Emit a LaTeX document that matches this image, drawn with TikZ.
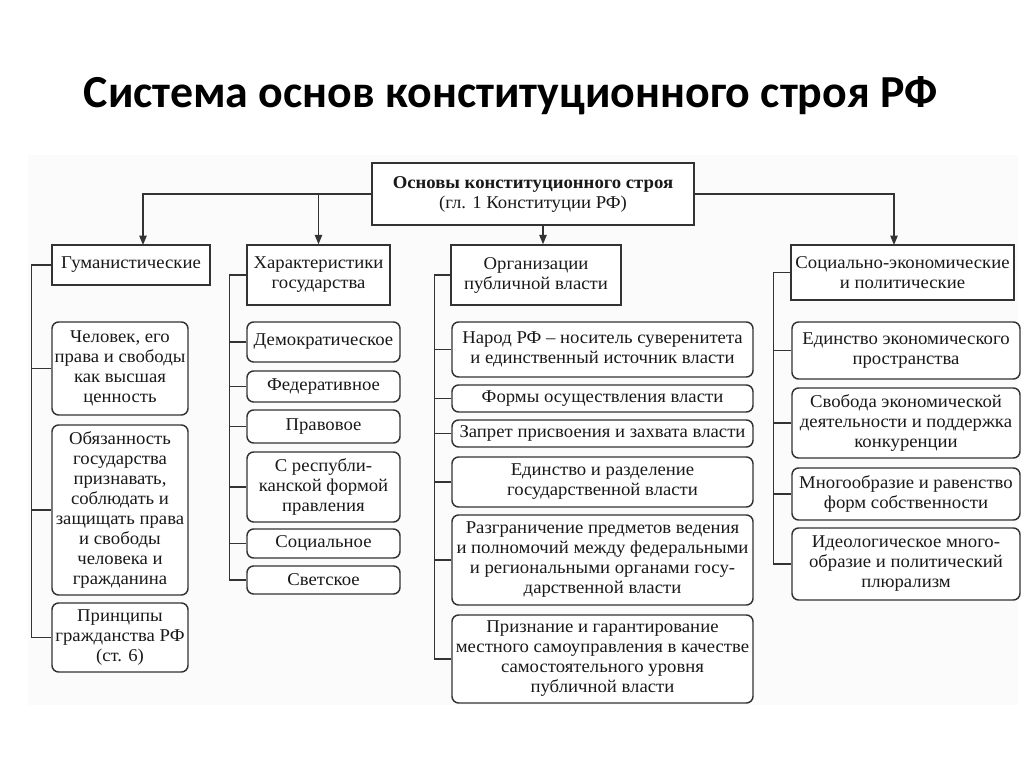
\documentclass[tikz,border=0pt]{standalone}
\usepackage{fontspec}
\setmainfont{Liberation Serif}[FakeStretch=1.04]
\newfontfamily\titlefont{Carlito}
\usetikzlibrary{arrows.meta}
\tikzset{
  base/.style={draw=black!80, line width=1.1pt, align=center, inner sep=0pt,
    font=\fontsize{13.5}{15}\selectfont, fill=white, text=black!90},
  rbox/.style={base, rounded corners=5pt},
  sbox/.style={base},
  ln/.style={draw=black!80, line width=1pt},
  arr/.style={ln, -{Triangle[length=7pt,width=5.5pt]}},
}
\newcommand\bx[7]{\node[#1, minimum width={(#4-#2)*0.75pt}, minimum height={(#5-#3)*0.75pt}] (#6) at ({(#2+#4)/2},{(#3+#5)/2}) {#7};}
\begin{document}
\begin{tikzpicture}[x=0.75pt,y=-0.75pt]
\fill[white] (0,0) rectangle (1024,767);
\fill[black!1.5] (28,155) rectangle (1018,705);
\useasboundingbox (0,0) rectangle (1024,767);
\node[font=\titlefont\bfseries\fontsize{34.4}{40}\selectfont, anchor=base] (title) at (511,108) {Система основ конституционного строя РФ};

\bx{sbox}{372}{163}{694}{225}{top}{\textbf{Основы конституционного строя}\\(гл. 1 Конституции РФ)}
\bx{sbox}{52}{245}{210}{285}{h1}{Гуманистические}
\bx{sbox}{247}{245}{390}{305}{h2}{Характеристики\\государства}
\bx{sbox}{451}{245}{621}{305}{h3}{Организации\\публичной власти}
\bx{sbox}{791}{245}{1014}{300}{h4}{Социально-экономические\\и политические}

\coordinate (p1) at (143,245);
\coordinate (p4) at (894,245);
\coordinate (pm) at (543,0);
\draw[arr] (top.west) -| (p1);
\draw[arr] (top.west -| h2.north) -- (h2.north);
\draw[arr] (top.east) -| (p4);
\draw[arr] (top.south -| pm) -- (h3.north -| pm);

% column 1
\bx{rbox}{52}{322}{188}{415}{a1}{Человек, его\\права и свободы\\как высшая\\ценность}
\bx{rbox}{52}{425}{188}{595}{a2}{Обязанность\\государства\\признавать,\\соблюдать и\\защищать права\\и свободы\\человека и\\гражданина}
\bx{rbox}{52}{603}{188}{672}{a3}{Принципы\\гражданства РФ\\(ст. 6)}
\draw[ln] (h1.west) -- ++(-20,0) |- (a3.west);
\foreach \n in {a1,a2} \draw[ln] (\n.west) -- ++(-20,0);

% column 2
\bx{rbox}{247}{322}{400}{362}{b1}{Демократическое}
\bx{rbox}{247}{371}{400}{402}{b2}{Федеративное}
\bx{rbox}{247}{410}{400}{443}{b3}{Правовое}
\bx{rbox}{247}{452}{400}{522}{b4}{С республи-\\канской формой\\правления}
\bx{rbox}{247}{529}{400}{558}{b5}{Социальное}
\bx{rbox}{247}{566}{400}{594}{b6}{Светское}
\draw[ln] (h2.west) -- ++(-17,0) |- (b6.west);
\foreach \n in {b1,b2,b3,b4,b5} \draw[ln] (\n.west) -- ++(-17,0);

% column 3
\bx{rbox}{452}{322}{753}{377}{c1}{Народ РФ – носитель суверенитета\\и единственный источник власти}
\bx{rbox}{452}{385}{753}{412}{c2}{Формы осуществления власти}
\bx{rbox}{452}{420}{753}{447}{c3}{Запрет присвоения и захвата власти}
\bx{rbox}{452}{457}{753}{507}{c4}{Единство и разделение\\государственной власти}
\bx{rbox}{452}{515}{753}{605}{c5}{Разграничение предметов ведения\\и полномочий между федеральными\\и региональными органами госу-\\дарственной власти}
\bx{rbox}{452}{615}{753}{703}{c6}{Признание и гарантирование\\местного самоуправления в качестве\\самостоятельного уровня\\публичной власти}
\draw[ln] (h3.west) -- ++(-16,0) |- (c6.west);
\foreach \n in {c1,c2,c3,c4,c5} \draw[ln] (\n.west) -- ++(-17,0);

% column 4
\bx{rbox}{792}{322}{1020}{379}{d1}{Единство экономического\\пространства}
\bx{rbox}{792}{388}{1020}{458}{d2}{Свобода экономической\\деятельности и поддержка\\конкуренции}
\bx{rbox}{792}{468}{1020}{520}{d3}{Многообразие и равенство\\форм собственности}
\bx{rbox}{792}{528}{1020}{600}{d4}{Идеологическое много-\\образие и политический\\плюрализм}
\draw[ln] (h4.west) -- ++(-17,0) |- (d4.west);
\foreach \n in {d1,d2,d3} \draw[ln] (\n.west) -- ++(-18,0);
\end{tikzpicture}
\end{document}
